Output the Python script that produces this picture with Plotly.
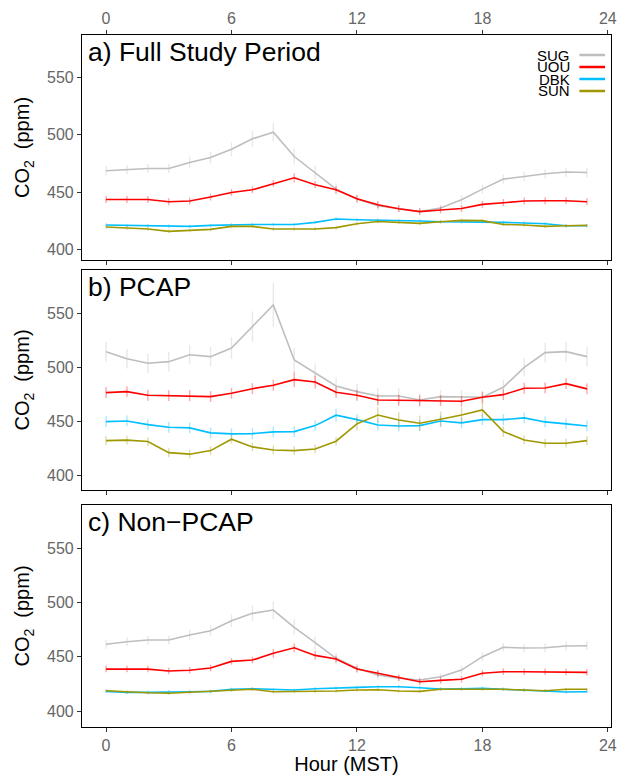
import plotly.graph_objects as go

hours = list(range(24))
sites = ["SUG", "UOU", "DBK", "SUN"]
site_colors = {"SUG": "#BEBEBE", "UOU": "#FF0000", "DBK": "#00BFFF", "SUN": "#A09800"}
panel_titles = ["a) Full Study Period", "b) PCAP", "c) Non\u2212PCAP"]

# ---- a) Full Study Period ----
full_sug = [468.5, 469.6, 470.5, 470.5, 475.7, 480.1, 487.3, 496.3, 502.1, 480.9, 467.0, 452.6,
            444.0, 438.2, 435.6, 433.2, 436.2, 443.4, 452.6, 461.3, 463.6, 465.9, 467.4, 467.0]
full_uou = [443.6, 443.6, 443.6, 441.6, 442.2, 445.7, 449.7, 452.0, 457.5, 462.4, 456.4, 452.0,
            444.2, 439.0, 435.6, 433.0, 434.4, 435.8, 439.3, 441.0, 442.2, 442.5, 442.5, 441.6]
full_dbk = [421.4, 421.1, 420.8, 420.6, 420.2, 421.1, 421.7, 421.9, 421.9, 421.9, 423.7, 426.6,
            426.0, 425.8, 425.4, 424.9, 424.3, 424.3, 424.3, 423.7, 423.2, 422.5, 420.8, 420.8]
full_sun = [419.7, 418.8, 418.0, 415.9, 416.5, 417.6, 420.2, 420.2, 418.0, 418.0, 418.0, 419.1,
            422.5, 424.5, 423.7, 422.8, 424.3, 425.4, 425.2, 421.9, 421.4, 420.2, 420.8, 421.1]
full_sug_err = [4, 4, 4, 4, 5, 5, 6, 7, 8, 7, 6, 5, 4, 4, 3, 3, 3, 4, 4, 4, 4, 4, 4, 4]
full_uou_err = [3, 3, 3, 3, 3, 3, 3, 3, 3, 4, 3, 3, 3, 3, 3, 3, 3, 3, 3, 3, 3, 3, 3, 3]
full_dbk_err = [1.5, 1.5, 1.5, 1.5, 1.5, 1.5, 1.5, 1.5, 1.5, 1.5, 1.5, 1.5,
                1.5, 1.5, 1.5, 1.5, 1.5, 1.5, 1.5, 1.5, 1.5, 1.5, 1.5, 1.5]
full_sun_err = [1.5, 1.5, 1.5, 1.5, 1.5, 1.5, 1.5, 1.5, 1.5, 1.5, 1.5, 1.5,
                1.5, 1.5, 1.5, 1.5, 1.5, 1.5, 1.5, 1.5, 1.5, 1.5, 1.5, 1.5]

# ---- b) PCAP ----
pcap_sug = [514.4, 507.9, 503.7, 505.2, 511.6, 509.8, 517.8, 537.4, 557.4, 506.7, 494.5, 482.8,
            477.6, 473.6, 473.6, 469.9, 473.0, 473.0, 472.4, 481.6, 500.0, 513.5, 514.4, 509.8]
pcap_uou = [476.7, 477.6, 474.3, 473.9, 473.9, 473.0, 476.1, 480.3, 483.5, 488.6, 486.5, 477.0,
            474.3, 469.9, 469.7, 469.3, 469.3, 468.7, 472.4, 474.8, 480.7, 481.0, 484.9, 480.1]
pcap_dbk = [450.0, 450.6, 447.2, 444.8, 444.2, 439.6, 438.7, 438.9, 440.5, 440.8, 446.3, 455.9,
            451.8, 446.9, 446.0, 446.3, 450.6, 448.8, 451.8, 451.8, 453.4, 449.7, 447.9, 446.0]
pcap_sun = [432.5, 432.9, 431.6, 421.4, 420.0, 423.3, 433.8, 426.7, 423.9, 423.3, 424.8, 431.9,
            447.9, 456.1, 451.5, 448.5, 452.2, 456.1, 460.7, 440.8, 433.1, 430.1, 430.1, 432.5]
pcap_sug_err = [9, 9, 9, 9, 9, 9, 10, 14, 20, 11, 9, 8, 7, 7, 7, 6, 6, 6, 6, 7, 8, 9, 9, 9]
pcap_uou_err = [5, 5, 5, 5, 5, 5, 5, 5, 5, 7, 6, 5, 5, 5, 5, 5, 5, 5, 5, 5, 5, 5, 5, 5]
pcap_dbk_err = [5, 5, 5, 5, 5, 5, 5, 5, 5, 5, 5, 6, 5, 5, 5, 5, 5, 5, 5, 5, 5, 5, 5, 5]
pcap_sun_err = [4, 4, 4, 4, 4, 4, 4, 4, 4, 4, 4, 4, 6, 7, 7, 7, 7, 7, 7, 5, 4, 4, 4, 4]

# ---- c) Non-PCAP ----
non_sug = [461.4, 463.8, 465.3, 465.3, 469.9, 473.9, 483.1, 489.9, 492.9, 477.0, 462.9, 448.5,
           439.3, 433.1, 430.1, 428.5, 431.6, 437.7, 450.0, 458.6, 458.0, 458.2, 459.8, 460.1]
non_uou = [438.6, 438.6, 438.6, 436.8, 437.5, 439.6, 445.7, 446.9, 453.1, 458.2, 451.2, 447.9,
           438.6, 434.7, 430.6, 427.0, 428.2, 429.2, 434.7, 436.2, 436.2, 436.2, 435.9, 435.6]
non_dbk = [418.1, 417.2, 417.2, 417.8, 417.8, 418.1, 420.0, 420.5, 419.6, 419.3, 420.5, 421.4,
           421.8, 422.4, 422.4, 421.4, 420.2, 420.5, 420.9, 420.0, 419.3, 418.7, 417.5, 417.8]
non_sun = [418.7, 417.5, 416.8, 416.3, 417.2, 417.8, 419.0, 420.0, 417.8, 417.8, 417.8, 418.4,
           419.3, 419.6, 418.4, 418.1, 420.0, 420.0, 420.0, 420.0, 419.3, 418.7, 420.0, 420.0]
non_sug_err = [4, 4, 4, 4, 5, 5, 6, 7, 8, 7, 6, 5, 4, 4, 3, 3, 3, 4, 4, 4, 4, 4, 4, 4]
non_uou_err = [3, 3, 3, 3, 3, 3, 3, 3, 4, 4, 4, 3, 3, 3, 3, 3, 3, 3, 3, 3, 3, 3, 3, 3]
non_dbk_err = [1.5, 1.5, 1.5, 1.5, 1.5, 1.5, 1.5, 1.5, 1.5, 1.5, 1.5, 1.5,
               1.5, 1.5, 1.5, 1.5, 1.5, 1.5, 1.5, 1.5, 1.5, 1.5, 1.5, 1.5]
non_sun_err = [1.5, 1.5, 1.5, 1.5, 1.5, 1.5, 1.5, 1.5, 1.5, 1.5, 1.5, 1.5,
               1.5, 1.5, 1.5, 1.5, 1.5, 1.5, 1.5, 1.5, 1.5, 1.5, 1.5, 1.5]

y_ticks = [400, 450, 500, 550]
x_ticks = [0, 6, 12, 18, 24]

panels = [
    {"SUG": (full_sug, full_sug_err), "UOU": (full_uou, full_uou_err),
     "DBK": (full_dbk, full_dbk_err), "SUN": (full_sun, full_sun_err)},
    {"SUG": (pcap_sug, pcap_sug_err), "UOU": (pcap_uou, pcap_uou_err),
     "DBK": (pcap_dbk, pcap_dbk_err), "SUN": (pcap_sun, pcap_sun_err)},
    {"SUG": (non_sug, non_sug_err), "UOU": (non_uou, non_uou_err),
     "DBK": (non_dbk, non_dbk_err), "SUN": (non_sun, non_sun_err)},
]

# layout geometry (pixels)
W, H = 620, 775
L, R, T, B = 82, 3, 35, 48
plot_h = H - T - B
panel_px = [(35, 260), (270, 490), (505, 727)]
y_ranges = [[391, 586.5], [387, 589.6], [385.3, 589.6]]


def py(p):
    return 1 - (p - T) / plot_h


def rgba(hexcol, a):
    h = hexcol.lstrip("#")
    r, g, b = int(h[0:2], 16), int(h[2:4], 16), int(h[4:6], 16)
    return f"rgba({r},{g},{b},{a})"


FONT = "Liberation Sans, Arial, Helvetica, sans-serif"
fig = go.Figure()

for i, pdata in enumerate(panels):
    xa = "x" if i == 0 else f"x{i+1}"
    ya = "y" if i == 0 else f"y{i+1}"
    for s in sites:
        vals, errs = pdata[s]
        fig.add_trace(go.Scatter(
            x=hours, y=vals, mode="lines", xaxis=xa, yaxis=ya,
            line=dict(color=site_colors[s], width=1.6),
            error_y=dict(type="data", array=errs, visible=True, width=0,
                         thickness=1.4, color=rgba(site_colors[s], 0.35)),
            showlegend=False, name=s))

    top_px, bot_px = panel_px[i]
    xkey = "xaxis" if i == 0 else f"xaxis{i+1}"
    ykey = "yaxis" if i == 0 else f"yaxis{i+1}"
    xcfg = dict(domain=[0, 1], range=[-1.15, 24.15], tickvals=x_ticks,
                ticks="outside", ticklen=4, tickcolor="#333333", tickwidth=1,
                showline=True, linecolor="black", linewidth=1.2,
                showgrid=False, zeroline=False, anchor=ya, ticklabeloverflow="allow",
                tickfont=dict(family=FONT, size=16, color="#666666"))
    if i == 0:
        xcfg.update(side="top", mirror="ticks", showticklabels=True)
    elif i == 1:
        xcfg.update(side="bottom", mirror=True, showticklabels=False, matches="x")
    else:
        xcfg.update(side="bottom", mirror=True, showticklabels=True, matches="x",
                    title=dict(text="Hour (MST)", font=dict(family=FONT, size=20, color="black"),
                               standoff=2))
    fig.update_layout({xkey: xcfg})
    fig.update_layout({ykey: dict(
        domain=[py(bot_px), py(top_px)], range=y_ranges[i], tickvals=y_ticks,
        ticks="outside", ticklen=4, tickcolor="#333333", tickwidth=1,
        showline=True, linecolor="black", linewidth=1.2, mirror=True,
        showgrid=False, zeroline=False, anchor=xa,
        tickfont=dict(family=FONT, size=16, color="#666666"),
        title=dict(text="CO<sub>2</sub>  (ppm)", font=dict(family=FONT, size=20, color="black"),
                   standoff=11))})
    fig.add_annotation(text=panel_titles[i], xref=f"{xa} domain", yref=f"{ya} domain",
                       x=0.008, y=1.0, xanchor="left", yanchor="top", showarrow=False,
                       font=dict(family=FONT, size=26.5, color="black"))

# manual legend (text left of key line), inside panel a
leg_y0, leg_dy = 55, 12
for k, s in enumerate(sites):
    yy = py(leg_y0 + k * leg_dy)
    fig.add_annotation(text=s, xref="paper", yref="paper", x=(578 - L) / (W - L - R), y=yy,
                       xanchor="right", yanchor="middle", showarrow=False,
                       font=dict(family=FONT, size=15, color="black"))
    fig.add_shape(type="line", xref="paper", yref="paper",
                  x0=(585 - L) / (W - L - R), x1=(611 - L) / (W - L - R), y0=yy, y1=yy,
                  line=dict(color=site_colors[s], width=2.5))

fig.update_layout(width=W, height=H, margin=dict(l=L, r=R, t=T, b=B),
                  plot_bgcolor="white", paper_bgcolor="white",
                  font=dict(family=FONT))
fig.write_html("out.html")
